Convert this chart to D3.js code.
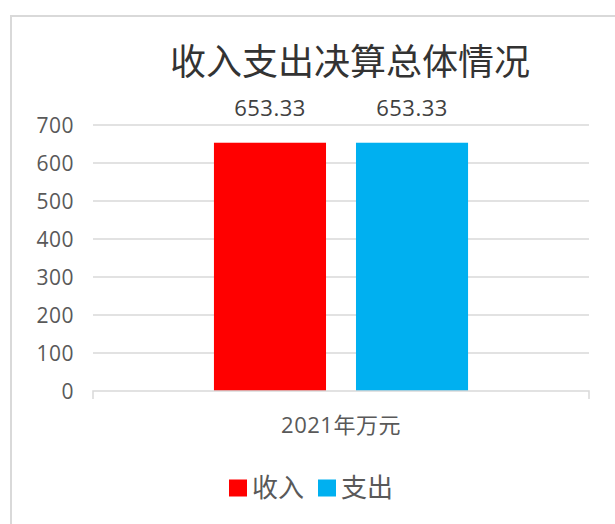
<!DOCTYPE html>
<html>
<head>
<meta charset="utf-8">
<script src="https://cdn.jsdelivr.net/npm/d3@7"></script>
<style>
  html, body { margin: 0; padding: 0; background: #fff; }
  svg { display: block; font-family: "Open Sans", "Noto Sans CJK SC", sans-serif; }
</style>
</head>
<body>
<svg width="615" height="524"></svg>
<script>
var title = "收入支出决算总体情况";
var categories = ["2021年万元"];
var seriesNames = ["收入", "支出"];
var seriesColors = ["#FF0000", "#00B0F0"];
var income = [653.33];
var expense = [653.33];
var yTicks = [0, 100, 200, 300, 400, 500, 600, 700];

var svg = d3.select("svg");

// outer frame (only top + left visible in the crop)
svg.append("path")
    .attr("d", "M11,530V16H615")
    .attr("fill", "none")
    .attr("stroke", "#d9d9d9")
    .attr("stroke-width", 2);

var plotLeft = 93, plotRight = 589, plotTop = 125, plotBottom = 391;

var y = d3.scaleLinear().domain([0, 700]).range([plotBottom, plotTop]);

var x0 = d3.scaleBand().domain(categories).range([plotLeft, plotRight])
    .paddingInner(0).paddingOuter(0.476);
var x1 = d3.scaleBand().domain(seriesNames).range([0, x0.bandwidth()])
    .paddingInner(0.211).paddingOuter(0);

// gridlines
svg.append("g").selectAll("line")
    .data(yTicks.filter(function(d) { return d > 0; }))
    .join("line")
    .attr("x1", plotLeft).attr("x2", plotRight)
    .attr("y1", function(d) { return y(d); })
    .attr("y2", function(d) { return y(d); })
    .attr("stroke", "#d9d9d9")
    .attr("stroke-width", 1.5);

// y axis labels
var yAxis = d3.axisLeft(y).tickValues(yTicks).tickSize(0).tickPadding(0);
var gy = svg.append("g").attr("transform", "translate(74,0)").call(yAxis);
gy.select(".domain").remove();
gy.selectAll("text")
    .attr("fill", "#595959")
    .style("font-family", "'Open Sans', sans-serif")
    .style("font-size", "21px")
    .style("letter-spacing", "0.5px")
    .attr("dy", "0.35em");

// bars
var table = categories.map(function(c, i) {
  return { cat: c, values: [income[i], expense[i]] };
});

var groups = svg.append("g").selectAll("g")
    .data(table)
    .join("g")
    .attr("transform", function(d) { return "translate(" + x0(d.cat) + ",0)"; });

groups.selectAll("rect")
    .data(function(d) { return d.values.map(function(v, j) { return { name: seriesNames[j], v: v, c: seriesColors[j] }; }); })
    .join("rect")
    .attr("x", function(d) { return x1(d.name); })
    .attr("width", x1.bandwidth())
    .attr("y", function(d) { return y(d.v); })
    .attr("height", function(d) { return y(0) - y(d.v); })
    .attr("fill", function(d) { return d.c; });

groups.selectAll("text.val")
    .data(function(d) { return d.values.map(function(v, j) { return { name: seriesNames[j], v: v }; }); })
    .join("text")
    .attr("class", "val")
    .attr("x", function(d) { return x1(d.name) + x1.bandwidth() / 2; })
    .attr("y", function(d) { return y(d.v) - 34; })
    .attr("dy", "0.35em")
    .attr("text-anchor", "middle")
    .attr("fill", "#404040")
    .style("font-family", "'Open Sans', sans-serif")
    .style("font-size", "22px")
    .style("letter-spacing", "0.5px")
    .text(function(d) { return d3.format(".2f")(d.v); });

// x axis
var xAxis = d3.axisBottom(x0).tickSize(0).tickPadding(0);
var gx = svg.append("g").attr("transform", "translate(0," + plotBottom + ")").call(xAxis);
gx.select(".domain").remove();
gx.append("path")
    .attr("d", "M" + plotLeft + ",8V0H" + plotRight + "V8")
    .attr("fill", "none")
    .attr("stroke", "#d9d9d9")
    .attr("stroke-width", 1.5);
gx.selectAll(".tick text")
    .attr("y", 34)
    .attr("dy", "0.35em")
    .attr("fill", "#595959")
    .style("font-family", "'Open Sans', 'Noto Sans CJK SC', sans-serif")
    .style("font-size", "22px")
    .style("letter-spacing", "0.5px");

// title
svg.append("text")
    .attr("x", 350)
    .attr("y", 62)
    .attr("dy", "0.35em")
    .attr("text-anchor", "middle")
    .attr("fill", "#333333")
    .style("font-family", "'Noto Sans CJK SC', sans-serif")
    .style("font-size", "36px")
    .text(title);

// legend
var legend = svg.append("g").attr("transform", "translate(229,488)");
var lx = [0, 89];
var items = legend.selectAll("g")
    .data(seriesNames)
    .join("g")
    .attr("transform", function(d, i) { return "translate(" + lx[i] + ",0)"; });
items.append("rect")
    .attr("x", 0).attr("y", -8.5)
    .attr("width", 18).attr("height", 17)
    .attr("fill", function(d, i) { return seriesColors[i]; });
items.append("text")
    .attr("x", 23)
    .attr("dy", "0.35em")
    .attr("fill", "#595959")
    .style("font-family", "'Noto Sans CJK SC', sans-serif")
    .style("font-size", "26px")
    .text(function(d) { return d; });
</script>
</body>
</html>
